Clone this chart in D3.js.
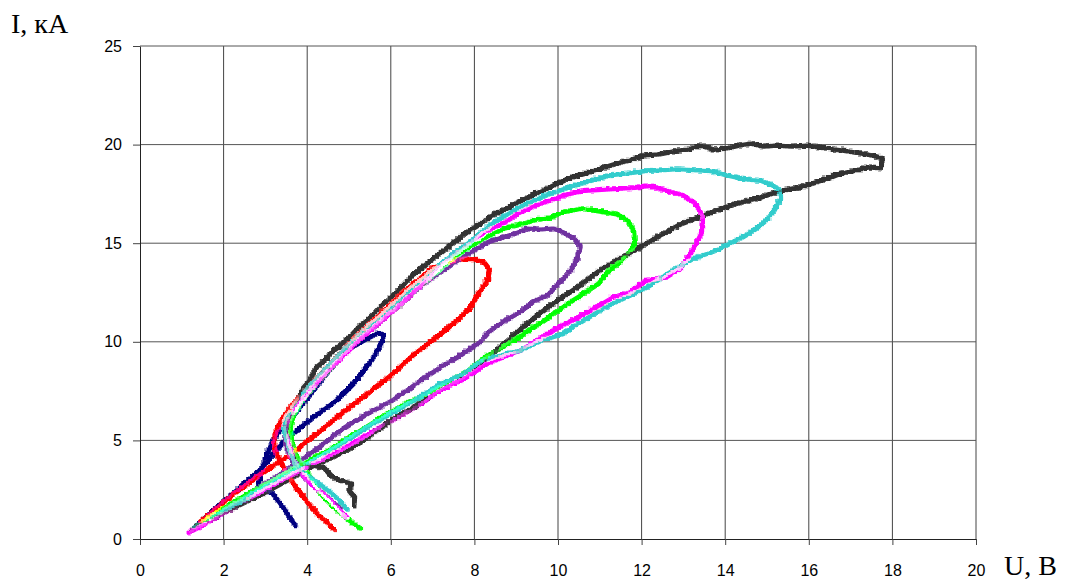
<!DOCTYPE html>
<html lang="ru">
<head>
  <meta charset="UTF-8">
  <title>I(U)</title>
  <script src="https://d3js.org/d3.v7.min.js"></script>
  <style>
    body { margin: 0; background: #fff; }
    svg { display: block; }
    .tick text { font-family: "Liberation Sans", Arial, sans-serif; font-size: 16px; fill: #000; }
    .title { font-family: "Liberation Serif", "Times New Roman", serif; font-size: 28px; fill: #000; }
  </style>
</head>
<body>
<script>
  // значения: [U, В ; I, кА]
  const xTicks = [0, 2, 4, 6, 8, 10, 12, 14, 16, 18, 20];
  const yTicks = [0, 5, 10, 15, 20, 25];

  const navy = [[3.72,0.65],[3.6,1.05],[3.45,1.5],[3.3,1.95],[3.15,2.35],[2.95,2.6],[2.8,2.8],[2.88,3.3],[2.95,3.9],[3.05,4.5],[3.15,5.0],[3.3,5.45],[3.5,5.95],[3.75,6.55],[4.05,7.35],[4.35,8.2],[4.7,9.05],[5.0,9.7],[5.4,10.2],[5.7,10.5],[5.82,10.4],[5.72,9.8],[5.55,9.2],[5.4,8.75],[5.1,7.95],[4.7,7.1],[4.25,6.4],[3.85,5.75],[3.45,5.05],[3.15,4.3],[2.95,3.75],[2.7,3.25],[2.45,2.8],[2.2,2.35],[1.95,1.9],[1.7,1.45],[1.5,1.05],[1.3,0.65]];

  const red = [[4.65,0.45],[4.5,0.8],[4.3,1.15],[4.15,1.5],[4.0,1.85],[3.85,2.3],[3.65,2.85],[3.5,3.4],[3.35,3.9],[3.22,4.5],[3.18,5.0],[3.25,5.6],[3.4,6.2],[3.65,6.9],[3.95,7.6],[4.3,8.4],[4.7,9.3],[5.1,10.2],[5.5,11.0],[5.9,11.8],[6.3,12.6],[6.7,13.3],[7.0,13.8],[7.3,14.05],[7.6,14.2],[7.95,14.25],[8.2,14.1],[8.35,13.7],[8.3,13.2],[8.15,12.7],[8.0,12.2],[7.85,11.7],[7.55,11.1],[7.2,10.5],[6.85,9.9],[6.5,9.35],[6.15,8.65],[5.75,7.95],[5.3,7.2],[4.8,6.4],[4.4,5.7],[4.0,5.05],[3.6,4.35],[3.2,3.8],[2.85,3.3],[2.5,2.75],[2.2,2.3],[1.9,1.75],[1.65,1.3],[1.4,0.9]];

  const purple = [[4.8,1.55],[4.62,1.85],[4.4,2.3],[4.15,2.75],[3.9,3.2],[3.7,3.7],[3.55,4.3],[3.45,5.0],[3.45,5.6],[3.55,6.2],[3.8,7.0],[4.1,7.75],[4.5,8.7],[4.9,9.5],[5.3,10.3],[5.7,11.0],[6.1,11.8],[6.5,12.5],[6.9,13.2],[7.33,13.8],[7.65,14.3],[7.95,14.65],[8.3,15.1],[8.6,15.3],[8.92,15.5],[9.25,15.8],[9.57,15.75],[9.85,15.8],[10.1,15.6],[10.35,15.3],[10.52,14.9],[10.45,14.3],[10.3,13.7],[10.1,13.2],[9.9,12.8],[9.73,12.4],[9.4,12.1],[9.1,11.6],[8.7,11.1],[8.35,10.6],[8.1,10.0],[7.6,9.3],[7.17,8.75],[6.77,8.2],[6.38,7.6],[6.0,7.05],[5.42,6.4],[4.78,5.55],[4.3,4.75],[3.85,4.05],[3.4,3.4],[2.9,2.75],[2.4,2.1],[1.9,1.4],[1.5,0.9],[1.25,0.55]];

  const green = [[5.28,0.55],[5.1,0.8],[4.95,1.05],[4.8,1.35],[4.62,1.65],[4.45,2.0],[4.3,2.35],[4.15,2.85],[4.0,3.35],[3.85,3.8],[3.7,4.35],[3.62,5.0],[3.58,5.7],[3.65,6.3],[3.85,7.0],[4.15,7.8],[4.55,8.7],[4.95,9.6],[5.35,10.4],[5.8,11.2],[6.25,12.0],[6.7,12.9],[7.1,13.6],[7.48,14.3],[7.9,14.9],[8.3,15.4],[8.7,15.8],[9.1,16.0],[9.4,16.2],[9.73,16.3],[10.1,16.6],[10.52,16.8],[11.0,16.65],[11.4,16.5],[11.65,16.2],[11.8,15.65],[11.82,15.0],[11.65,14.5],[11.45,14.05],[11.2,13.65],[10.95,13.0],[10.6,12.5],[10.3,12.1],[9.9,11.5],[9.6,11.05],[9.1,10.35],[8.6,9.7],[8.2,9.2],[7.75,8.45],[7.2,7.85],[6.7,7.25],[6.3,6.85],[5.75,6.2],[5.26,5.55],[4.5,4.55],[4.0,4.0],[3.4,3.3],[2.8,2.6],[2.2,1.9],[1.7,1.2],[1.35,0.7]];

  const magenta = [[4.95,1.1],[4.85,1.3],[4.7,1.6],[4.55,1.95],[4.4,2.25],[4.2,2.6],[4.0,3.0],[3.8,3.5],[3.65,4.1],[3.55,4.8],[3.5,5.5],[3.55,6.1],[3.75,6.8],[4.05,7.6],[4.45,8.5],[4.85,9.35],[5.25,10.2],[5.7,11.0],[6.2,11.9],[6.7,12.9],[7.1,13.7],[7.48,14.45],[7.9,15.1],[8.3,15.65],[8.7,16.1],[9.08,16.6],[9.5,17.0],[9.9,17.3],[10.25,17.55],[10.6,17.7],[11.0,17.75],[11.4,17.8],[11.8,17.85],[12.2,17.95],[12.6,17.7],[12.95,17.5],[13.25,17.1],[13.45,16.4],[13.42,15.6],[13.3,15.1],[13.15,14.5],[12.9,13.75],[12.55,13.3],[12.1,13.15],[11.7,12.55],[11.3,12.3],[10.9,11.8],[10.5,11.3],[10.05,10.85],[9.55,10.2],[9.08,9.6],[8.65,9.25],[8.3,8.95],[7.72,8.15],[7.17,7.6],[6.7,6.9],[6.05,6.1],[5.4,5.3],[4.8,4.6],[4.2,3.95],[3.6,3.3],[3.0,2.6],[2.4,1.85],[1.8,1.15],[1.4,0.65],[1.12,0.35]];

  const cyan = [[4.95,1.5],[4.85,1.75],[4.7,2.1],[4.47,2.5],[4.2,2.95],[3.9,3.4],[3.7,3.85],[3.58,4.4],[3.5,5.0],[3.42,5.6],[3.45,6.1],[3.65,6.8],[3.95,7.6],[4.35,8.5],[4.75,9.4],[5.15,10.25],[5.6,11.1],[6.05,11.95],[6.5,12.8],[6.95,13.6],[7.4,14.35],[7.9,15.15],[8.45,16.1],[9.1,16.9],[9.73,17.5],[10.2,17.85],[10.75,18.2],[11.25,18.5],[11.7,18.6],[12.05,18.7],[12.5,18.75],[12.85,18.8],[13.25,18.75],[13.65,18.7],[14.0,18.5],[14.3,18.35],[14.6,18.25],[14.85,18.2],[15.1,18.0],[15.28,17.75],[15.32,17.35],[15.15,16.7],[15.0,16.3],[14.85,16.0],[14.6,15.6],[14.35,15.3],[14.2,15.15],[13.9,14.8],[13.55,14.5],[13.2,14.25],[12.85,13.8],[12.6,13.5],[12.1,12.8],[11.7,12.4],[11.25,11.95],[10.85,11.45],[10.45,10.95],[10.1,10.45],[9.57,10.1],[9.08,9.6],[8.77,9.45],[8.13,9.05],[7.72,8.4],[7.17,7.9],[6.53,7.05],[5.97,6.4],[5.4,5.7],[4.8,4.85],[4.2,4.1],[3.6,3.4],[3.0,2.7],[2.4,1.95],[1.8,1.25],[1.45,0.8],[1.25,0.6]];

  const black = [[5.1,1.65],[5.12,2.15],[4.98,2.5],[5.05,2.85],[4.78,3.0],[4.6,3.15],[4.38,3.65],[4.1,3.8],[3.85,3.75],[3.7,4.2],[3.6,4.9],[3.5,5.5],[3.55,5.95],[3.65,6.7],[3.78,7.1],[3.9,7.75],[4.05,8.1],[4.2,8.75],[4.4,9.1],[4.6,9.6],[4.8,9.9],[5.0,10.3],[5.2,10.75],[5.4,11.1],[5.6,11.5],[5.8,11.95],[6.1,12.5],[6.5,13.4],[6.85,14.0],[7.2,14.6],[7.5,15.1],[7.8,15.6],[8.1,16.0],[8.45,16.5],[8.75,16.8],[9.0,17.1],[9.3,17.4],[9.6,17.7],[9.9,18.0],[10.2,18.3],[10.5,18.5],[10.85,18.7],[11.1,18.9],[11.4,19.1],[11.7,19.25],[12.05,19.5],[12.4,19.55],[12.85,19.75],[13.1,19.8],[13.4,20.0],[13.7,19.8],[14.0,19.85],[14.3,20.0],[14.6,20.1],[14.9,19.95],[15.2,20.0],[15.6,19.95],[15.95,20.0],[16.4,19.85],[16.8,19.75],[17.2,19.6],[17.5,19.5],[17.75,19.35],[17.7,18.85],[17.4,18.9],[17.05,18.7],[16.7,18.55],[16.4,18.3],[16.1,18.1],[15.8,17.9],[15.45,17.75],[15.15,17.6],[14.8,17.35],[14.5,17.2],[14.2,17.0],[13.9,16.8],[13.4,16.4],[12.9,16.0],[12.4,15.4],[11.9,14.8],[11.5,14.3],[11.0,13.7],[10.5,12.9],[9.95,12.1],[9.55,11.5],[9.1,10.7],[8.77,10.1],[8.3,9.2],[7.72,8.3],[7.17,7.7],[6.6,6.8],[6.05,6.15],[5.3,5.0],[4.6,4.2],[4.07,3.7],[3.65,3.2],[2.87,2.3],[2.08,1.5],[1.44,0.8],[1.2,0.5]];

  const series = [
    { name: "navy", color: "#000080", points: navy },
    { name: "red", color: "#ff0000", points: red },
    { name: "purple", color: "#7030a0", points: purple },
    { name: "green", color: "#00ff00", points: green },
    { name: "magenta", color: "#ff00ff", points: magenta },
    { name: "cyan", color: "#33cccc", points: cyan },
    { name: "black", color: "#333333", points: black }
  ];

  const width = 1071, height = 582;
  const margin = { top: 46, right: 95, bottom: 43, left: 140 };

  const svg = d3.select("body")
                .append("svg")
                .attr("width", width)
                .attr("height", height);

  // дрожание линий как у осциллограммы — только визуальный фильтр
  const defs = svg.append("defs");
  const filt = defs.append("filter").attr("id", "noisy")
                   .attr("filterUnits", "userSpaceOnUse")
                   .attr("x", 0).attr("y", 0).attr("width", width).attr("height", height);
  filt.append("feTurbulence").attr("type", "turbulence")
      .attr("baseFrequency", 0.45).attr("numOctaves", 2).attr("seed", 5).attr("result", "t");
  filt.append("feDisplacementMap").attr("in", "SourceGraphic").attr("in2", "t")
      .attr("scale", 3.5).attr("xChannelSelector", "R").attr("yChannelSelector", "G")
      .attr("result", "d");
  filt.append("feMorphology").attr("in", "d").attr("operator", "dilate").attr("radius", 0.5);

  const x = d3.scaleLinear().domain([0, 20]).range([margin.left, width - margin.right]);
  const y = d3.scaleLinear().domain([0, 25]).range([height - margin.bottom, margin.top]);

  // сетка
  svg.append("g")
     .selectAll("line")
     .data(xTicks.slice(1))
     .enter()
     .append("line")
     .attr("x1", d => x(d)).attr("x2", d => x(d))
     .attr("y1", y(0)).attr("y2", y(25))
     .attr("stroke", "#444").attr("stroke-width", 1);

  svg.append("g")
     .selectAll("line")
     .data(yTicks.slice(1))
     .enter()
     .append("line")
     .attr("x1", x(0)).attr("x2", x(20))
     .attr("y1", d => y(d)).attr("y2", d => y(d))
     .attr("stroke", "#555").attr("stroke-width", 1);

  // оси
  const xAxis = svg.append("g")
     .attr("transform", `translate(0,${y(0)})`)
     .call(d3.axisBottom(x).tickValues(xTicks).tickSize(6).tickPadding(20).tickSizeOuter(0));
  const yAxis = svg.append("g")
     .attr("transform", `translate(${x(0)},0)`)
     .call(d3.axisLeft(y).tickValues(yTicks).tickSize(7).tickPadding(11).tickSizeOuter(0));
  [xAxis, yAxis].forEach(g => {
    g.select(".domain").attr("stroke", "#222");
    g.selectAll(".tick line").attr("stroke", "#444");
    g.attr("font-family", null).attr("font-size", null);
  });

  const line = d3.line()
                 .x(d => x(d[0]))
                 .y(d => y(d[1]));

  svg.append("g")
     .attr("filter", "url(#noisy)")
     .selectAll("path")
     .data(series)
     .enter()
     .append("path")
     .attr("d", d => line(d.points))
     .attr("fill", "none")
     .attr("stroke", d => d.color)
     .attr("stroke-width", d => d.name === "black" ? 2.3 : 2.0)
     .attr("stroke-linejoin", "round");

  svg.append("text").attr("class", "title")
     .attr("x", 1004).attr("y", 575)
     .text("U, В");
  svg.append("text").attr("class", "title")
     .attr("x", 11).attr("y", 33)
     .text("I, кА");
</script>
</body>
</html>
